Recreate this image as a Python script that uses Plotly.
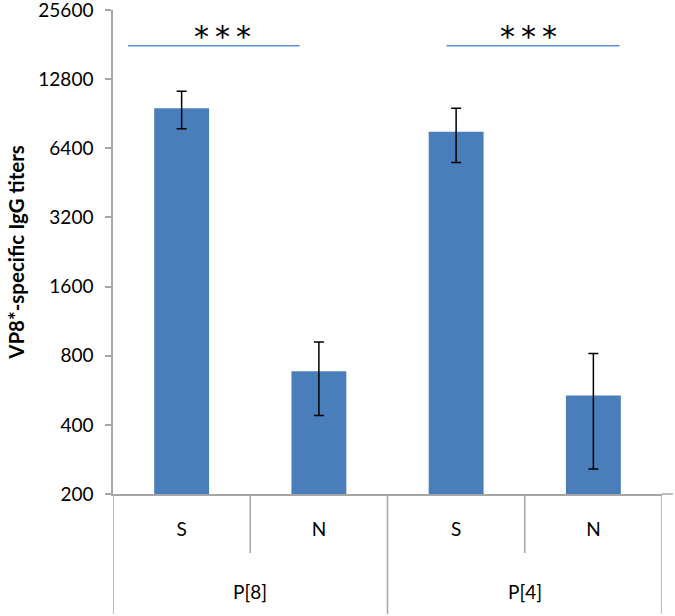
"""VP8*-specific IgG titers by genotype group, log2 scale bar chart."""
import plotly.graph_objects as go

# data
groups = ["P[8]", "P[8]", "P[4]", "P[4]"]
labels = ["S", "N", "S", "N"]
titers = [9570, 684, 7550, 537]
err_plus = [1780, 235, 2000, 280]
err_minus = [1780, 245, 2000, 280]
yticks = [200, 400, 800, 1600, 3200, 6400, 12800, 25600]

xpos = list(range(len(labels)))
grey = "#a6a6a6"
font = "Lato, 'Open Sans', sans-serif"

fig = go.Figure()
fig.add_trace(go.Bar(
    x=xpos, y=titers, width=0.4,
    marker=dict(color="#4a7ebb", line=dict(width=0)),
    error_y=dict(type="data", symmetric=False, array=err_plus,
                 arrayminus=err_minus, color="black", thickness=1.5, width=5),
))

# bracket lines and stars for the two comparisons
for x0, x1, dx in [(-0.39, 0.86, 0.065), (1.93, 3.19, -0.03)]:
    fig.add_shape(type="line", xref="x", yref="paper", x0=x0, x1=x1,
                  y0=0.926, y1=0.926, line=dict(color="#5b8fd3", width=1.5))
    fig.add_annotation(x=(x0 + x1) / 2 + dx, y=0.905, xref="x", yref="paper",
                       yanchor="bottom", text="*\u2009*\u2009*", showarrow=False,
                       font=dict(family="DejaVu Sans", size=30, color="black"))

# multi-level category axis dividers
for xd in [0.5, 2.5]:
    fig.add_shape(type="line", xref="x", yref="paper", x0=xd, x1=xd,
                  y0=0, y1=-0.122, line=dict(color=grey, width=1.5))
for xd in [-0.5, 1.5, 3.5]:
    fig.add_shape(type="line", xref="x", yref="paper", x0=xd, x1=xd,
                  y0=0, y1=-0.248, line=dict(color=grey, width=1.5))
fig.add_shape(type="line", xref="paper", yref="paper", x0=1, x1=1.02,
              y0=0, y1=0, line=dict(color=grey, width=1.5))

for gx, g in [(0.5, groups[0]), (2.5, groups[2])]:
    fig.add_annotation(x=gx, y=-0.198, xref="x", yref="paper", text=g,
                       yshift=-15, showarrow=False,
                       font=dict(family=font, size=19, color="black"))

# y axis title placed by hand
fig.add_annotation(x=-0.177, y=0.5, xref="paper", yref="paper", textangle=-90,
                   xanchor="center", yanchor="middle",
                   text="<b>VP8*-specific IgG titers</b>", showarrow=False,
                   font=dict(family=font, size=20.5, color="black"))

fig.update_layout(
    width=675, height=616,
    margin=dict(l=113, r=13, t=10, b=122),
    plot_bgcolor="white", paper_bgcolor="white",
    showlegend=False,
    font=dict(family=font, size=19, color="black"),
    xaxis=dict(range=[-0.5, 3.5], tickvals=xpos, ticktext=labels,
               showline=True, linecolor=grey, linewidth=1.5, automargin=False,
               ticks="", showgrid=False, zeroline=False, ticklabelstandoff=17),
    yaxis=dict(type="log", range=[2.30103, 4.4083], tickvals=yticks,
               ticktext=[str(v) for v in yticks], automargin=False,
               ticklabeloverflow="allow",
               showline=True, linecolor=grey, linewidth=1.5,
               ticks="outside", ticklen=6, tickcolor=grey, tickwidth=1.5,
               showgrid=False, zeroline=False, ticklabelstandoff=8),
)

# drop the default page margin so the figure sits at the window corner
fig.write_html("out.html", config={"displayModeBar": False},
               post_script="document.body.style.margin = '0';")
